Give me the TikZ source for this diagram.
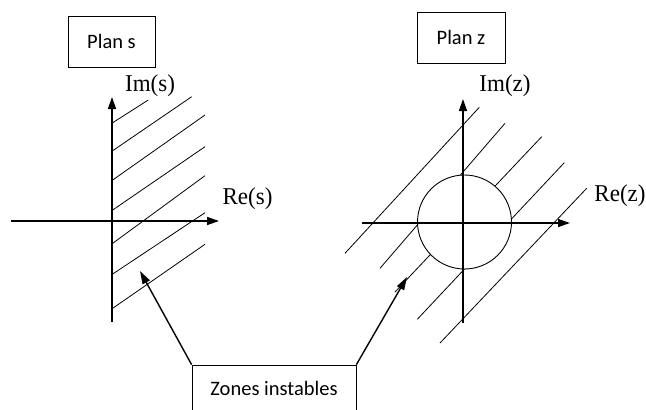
\documentclass[tikz,border=0pt]{standalone}
\usepackage{fontspec}
\setmainfont{Liberation Serif}
\newfontfamily\calib{Carlito}
\usetikzlibrary{arrows.meta}
\begin{document}
\begin{tikzpicture}[x=1pt,y=-1pt,
  axis/.style={line width=1.4pt, -{Triangle[length=12pt,width=8pt]}},
  hatch/.style={line width=0.8pt},
  boxlbl/.style={draw, line width=0.8pt, font=\calib\fontsize{20.5}{24}\selectfont, inner sep=0pt},
  axlbl/.style={font=\fontsize{23}{27}\selectfont, inner sep=0pt, yscale=1.05},
  pointer/.style={line width=1.4pt, -{Triangle[length=13pt,width=8pt]}}]
\useasboundingbox[fill=white] (0,0) rectangle (646,410);

% boxes
\node[boxlbl, minimum width=87pt, minimum height=51pt] (plans) at (111.5,41.5) {Plan s};
\node[boxlbl, minimum width=88pt, minimum height=51pt] (planz) at (461,37.5) {Plan z};
\node[boxlbl, minimum width=164pt, minimum height=47pt] (zones) at (274,388.5) {Zones instables};

% axis labels
\node[axlbl] (ims) at (150,86) {Im(s)};
\node[axlbl] (res) at (247.5,199) {Re(s)};
\node[axlbl] (imz) at (505,86) {Im(z)};
\node[axlbl] (rez) at (620,196) {Re(z)};

% left plane hatching
\foreach \a/\b/\c/\d in {112.7/122.7/148.3/100, 112.7/150.7/191.7/96.7,
  112.7/180/205/115, 112.7/210/205/146.7, 112.7/243.3/205/175.7,
  112.7/274/205/212.7, 112.7/308.3/205/244.3}
  \draw[hatch] (\a,\b) -- (\c,\d);

% left axes
\coordinate (sL) at (11,221);
\coordinate (sR) at (219,221);
\coordinate (sB) at (112,322);
\coordinate (sT) at (112,97);
\draw[axis] (sL) -- (sR);
\draw[axis] (sB) -- (sT);

% right plane hatching
\foreach \a/\b/\c/\d in {345/253.3/479.3/107.3, 380/268.3/505/123.3,
  395/292/541.7/136.7, 417.3/319.3/564.3/162.7, 440/343/586.7/188.3}
  \draw[hatch] (\a,\b) -- (\c,\d);

% unit circle
\node[draw, circle, fill=white, line width=0.9pt, minimum size=94pt, inner sep=0pt] (unit) at (464.5,222) {};

% right axes
\coordinate (zL) at (362,223);
\coordinate (zR) at (570,223);
\coordinate (zB) at (463,323);
\coordinate (zT) at (463,99);
\draw[axis] (zL) -- (zR);
\draw[axis] (zB) -- (zT);

% pointers
\coordinate (tipS) at (140,271);
\coordinate (tipZ) at (407,277);
\draw[pointer] (zones.north west) -- (tipS);
\draw[pointer] (zones.north east) -- (tipZ);
\end{tikzpicture}
\end{document}
